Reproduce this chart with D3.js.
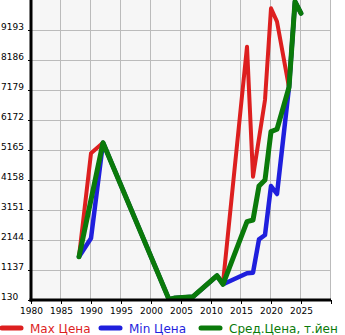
<!DOCTYPE html>
<html>
<head>
<meta charset="utf-8">
<script src="https://cdn.jsdelivr.net/npm/d3@7"></script>
<style>
  html, body { margin: 0; padding: 0; background: #ffffff; }
  svg { display: block; font-family: "DejaVu Sans", sans-serif; }
</style>
</head>
<body>
<svg id="chart" width="345" height="335"></svg>
<script>
// Price history by model year (null = no entry for that year)
const years = [1988, 1990, 1992, 2003, 2004, 2007, 2011, 2012, 2016, 2017, 2018, 2019, 2020, 2021, 2023, 2024, 2025];
const maxPrice = [1584, 5054, 5411, 150, 200, 240, 945, 700, 8634, 4270, null, 6844, 9922, 9472, 7270, 10145, 9754];
const minPrice = [1584, 2200, 5411, 150, 200, 240, 945, 657, 1026, 1047, 2167, 2312, 3957, 3688, 7270, 10145, 9754];
const avgPrice = [1584, null, 5411, 150, 200, 240, 945, 657, 2759, 2815, 3957, 4158, 5780, 5860, 7270, 10145, 9754];

const yTicks = [130, 1137, 2144, 3151, 4158, 5165, 6172, 7179, 8186, 9193];
const xTicks = [1980, 1985, 1990, 1995, 2000, 2005, 2010, 2015, 2020, 2025];

const seriesNames = ["Max Цена", "Min Цена", "Сред.Цена, т.йен"];
const seriesColors = ["#dd1f1f", "#1f1fdd", "#0a7a0a"];

const svg = d3.select("#chart");
const plotL = 31, plotR = 331, plotT = 0, plotB = 300;

const x = d3.scaleLinear().domain([1980, 2030]).range([plotL, plotR]);
const y = d3.scaleLinear().domain([130, 10200]).range([plotB, plotT]);

// plot background
svg.append("rect")
  .attr("x", plotL).attr("y", plotT)
  .attr("width", plotR - plotL).attr("height", plotB - plotT)
  .attr("fill", "#f6f6f6");

// grid
const grid = svg.append("g").attr("stroke", "#bbbbbb").attr("stroke-width", 1);
grid.selectAll(".gx").data(xTicks.concat([2030])).enter().append("line")
  .attr("x1", d => Math.round(x(d)) - 0.5).attr("x2", d => Math.round(x(d)) - 0.5)
  .attr("y1", plotT).attr("y2", plotB);
grid.selectAll(".gy").data(yTicks).enter().append("line")
  .attr("x1", plotL).attr("x2", plotR)
  .attr("y1", d => Math.round(y(d)) + 0.5).attr("y2", d => Math.round(y(d)) + 0.5);

// lines
svg.append("clipPath").attr("id", "plotclip")
  .append("rect").attr("x", plotL).attr("y", plotT)
  .attr("width", plotR - plotL).attr("height", plotB - plotT);

const line = d3.line().x(d => x(d[0])).y(d => y(d[1]));
const series = [maxPrice, minPrice, avgPrice];
const widths = [4, 4.5, 5];
const gLines = svg.append("g").attr("clip-path", "url(#plotclip)");
series.forEach((vals, i) => {
  gLines.append("path")
    .datum(years.map((yr, j) => [yr, vals[j]]).filter(d => d[1] != null))
    .attr("d", line)
    .attr("fill", "none")
    .attr("stroke", seriesColors[i])
    .attr("stroke-width", widths[i])
    .attr("stroke-linejoin", "round")
    .attr("stroke-linecap", "round");
});

// axes
const xAxis = svg.append("g")
  .attr("transform", `translate(0,${plotB})`)
  .call(d3.axisBottom(x).tickValues(xTicks.concat([2030])).tickSize(4)
    .tickFormat(d => d === 2030 ? "" : d3.format("d")(d)));
xAxis.select(".domain").remove();
xAxis.selectAll(".tick line").attr("stroke", "#000");
xAxis.selectAll("text").attr("font-size", 9).attr("fill", "#000")
  .attr("dy", 0).attr("y", 14).attr("font-family", "DejaVu Sans, sans-serif");

const yAxis = svg.append("g")
  .attr("transform", `translate(${plotL},0)`)
  .call(d3.axisLeft(y).tickValues(yTicks).tickSize(3).tickFormat(d3.format("d")));
yAxis.select(".domain").remove();
yAxis.selectAll(".tick line").attr("stroke", "#000");
yAxis.selectAll("text")
  .attr("font-size", 9).attr("fill", "#000")
  .attr("text-anchor", "start").attr("x", -30).attr("dy", 0).attr("y", -1)
  .attr("font-family", "DejaVu Sans, sans-serif");

svg.append("line").attr("x1", plotL).attr("x2", plotL).attr("y1", plotT).attr("y2", plotB + 1.5)
  .attr("stroke", "#000").attr("stroke-width", 3);
svg.append("line").attr("x1", plotL - 1.5).attr("x2", plotR).attr("y1", plotB).attr("y2", plotB)
  .attr("stroke", "#000").attr("stroke-width", 3);

// legend
const legendX = [2, 101, 201];
const lg = svg.append("g").attr("transform", "translate(0,328)");
seriesNames.forEach((name, i) => {
  lg.append("line")
    .attr("x1", legendX[i]).attr("x2", legendX[i] + 19)
    .attr("y1", 0).attr("y2", 0)
    .attr("stroke", seriesColors[i]).attr("stroke-width", 5)
    .attr("stroke-linecap", "round");
  lg.append("text")
    .attr("x", legendX[i] + 28).attr("y", 4.5)
    .attr("font-size", 12).attr("fill", seriesColors[i])
    .text(name);
});
</script>
</body>
</html>
